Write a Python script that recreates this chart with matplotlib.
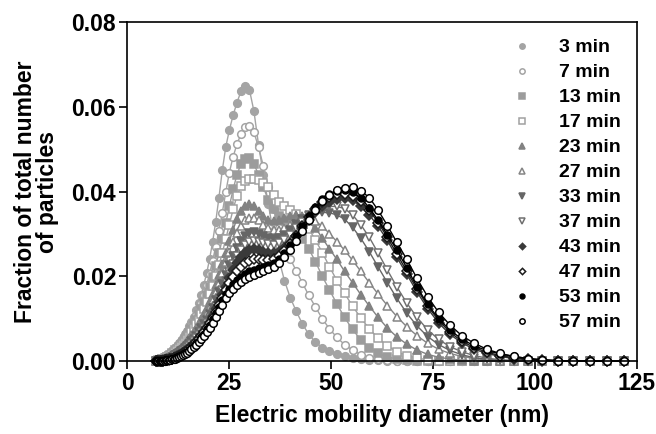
import matplotlib
matplotlib.use("Agg")
import matplotlib.pyplot as plt
from matplotlib.ticker import FormatStrFormatter

plt.rcParams['font.family'] = ['Liberation Sans', 'DejaVu Sans']
plt.rcParams['font.weight'] = 'bold'

# SMPS channel midpoints (nm)
diameters = [7.11, 7.37, 7.64, 7.92, 8.21, 8.51, 8.82, 9.14, 9.48, 9.83,
             10.19, 10.56, 10.95, 11.35, 11.76, 12.19, 12.64, 13.10, 13.58, 14.08,
             14.59, 15.13, 15.68, 16.26, 16.85, 17.47, 18.11, 18.77, 19.46, 20.17,
             20.91, 21.68, 22.47, 23.30, 24.15, 25.03, 25.95, 26.90, 27.89, 28.91,
             29.97, 31.06, 32.20, 33.38, 34.60, 35.87, 37.19, 38.55, 39.96, 41.42,
             42.94, 44.51, 46.14, 47.83, 49.59, 51.40, 53.28, 55.24, 57.26, 59.36,
             61.53, 63.79, 66.12, 68.55, 71.06, 73.66, 76.36, 79.15, 82.05, 85.06,
             88.18, 91.41, 94.76, 98.23, 101.83, 105.56, 109.42, 113.43, 117.59, 121.90]

labels = ['3 min', '7 min', '13 min', '17 min', '23 min', '27 min',
          '33 min', '37 min', '43 min', '47 min', '53 min', '57 min']

# number fraction per channel for each sampling time
f03 = [0.0001, 0.0002, 0.0003, 0.0004, 0.0005, 0.0006, 0.0008, 0.0009, 0.0011, 0.0013,
       0.0016, 0.0019, 0.0023, 0.0027, 0.0031, 0.0036, 0.0042, 0.0048, 0.0055, 0.0063,
       0.0072, 0.0082, 0.0093, 0.0105, 0.0120, 0.0137, 0.0157, 0.0180, 0.0207, 0.0240,
       0.0280, 0.0328, 0.0385, 0.0450, 0.0505, 0.0545, 0.0580, 0.0610, 0.0637, 0.0650,
       0.0640, 0.0590, 0.0510, 0.0440, 0.0370, 0.0300, 0.0240, 0.0190, 0.0150, 0.0118,
       0.0088, 0.0063, 0.0045, 0.0032, 0.0024, 0.0017, 0.0012, 0.0008, 0.0005, 0.0003,
       0.0002, 0.0001, 0.0001, 0, 0, 0, 0, 0, 0, 0,
       0, 0, 0, 0, 0, 0, 0, 0, 0, 0]
f07 = [0.0001, 0.0001, 0.0002, 0.0003, 0.0004, 0.0005, 0.0006, 0.0008, 0.0009, 0.0011,
       0.0014, 0.0017, 0.0020, 0.0024, 0.0028, 0.0033, 0.0038, 0.0044, 0.0051, 0.0058,
       0.0066, 0.0075, 0.0085, 0.0096, 0.0108, 0.0122, 0.0138, 0.0157, 0.0180, 0.0206,
       0.0236, 0.0270, 0.0308, 0.0350, 0.0398, 0.0445, 0.0482, 0.0512, 0.0536, 0.0552,
       0.0555, 0.0540, 0.0505, 0.0460, 0.0410, 0.0360, 0.0315, 0.0275, 0.0242, 0.0213,
       0.0185, 0.0155, 0.0128, 0.0100, 0.0076, 0.0056, 0.0039, 0.0026, 0.0015, 0.0008,
       0.0004, 0.0002, 0.0001, 0, 0, 0, 0, 0, 0, 0,
       0, 0, 0, 0, 0, 0, 0, 0, 0, 0]
f13 = [0.0001, 0.0001, 0.0002, 0.0002, 0.0003, 0.0004, 0.0005, 0.0007, 0.0008, 0.0010,
       0.0012, 0.0015, 0.0018, 0.0021, 0.0025, 0.0029, 0.0034, 0.0039, 0.0045, 0.0052,
       0.0059, 0.0067, 0.0076, 0.0086, 0.0097, 0.0109, 0.0122, 0.0137, 0.0155, 0.0175,
       0.0198, 0.0224, 0.0254, 0.0288, 0.0325, 0.0365, 0.0405, 0.0440, 0.0465, 0.0478,
       0.0480, 0.0465, 0.0440, 0.0410, 0.0380, 0.0358, 0.0342, 0.0332, 0.0322, 0.0308,
       0.0288, 0.0265, 0.0235, 0.0200, 0.0168, 0.0135, 0.0103, 0.0075, 0.0050, 0.0032,
       0.0018, 0.0010, 0.0005, 0.0003, 0.0001, 0, 0, 0, 0, 0,
       0, 0, 0, 0, 0, 0, 0, 0, 0, 0]
f17 = [0.0001, 0.0001, 0.0001, 0.0002, 0.0003, 0.0004, 0.0005, 0.0006, 0.0007, 0.0009,
       0.0011, 0.0013, 0.0016, 0.0019, 0.0022, 0.0026, 0.0030, 0.0035, 0.0040, 0.0046,
       0.0053, 0.0060, 0.0068, 0.0077, 0.0087, 0.0098, 0.0110, 0.0124, 0.0140, 0.0158,
       0.0178, 0.0200, 0.0226, 0.0255, 0.0288, 0.0322, 0.0358, 0.0390, 0.0413, 0.0426,
       0.0430, 0.0430, 0.0427, 0.0420, 0.0410, 0.0392, 0.0376, 0.0365, 0.0356, 0.0346,
       0.0332, 0.0312, 0.0286, 0.0256, 0.0223, 0.0190, 0.0160, 0.0130, 0.0102, 0.0076,
       0.0054, 0.0036, 0.0022, 0.0013, 0.0007, 0.0003, 0.0001, 0, 0, 0,
       0, 0, 0, 0, 0, 0, 0, 0, 0, 0]
f23 = [0.0001, 0.0001, 0.0001, 0.0002, 0.0002, 0.0003, 0.0004, 0.0005, 0.0006, 0.0008,
       0.0010, 0.0012, 0.0014, 0.0017, 0.0020, 0.0023, 0.0027, 0.0031, 0.0036, 0.0041,
       0.0047, 0.0054, 0.0061, 0.0069, 0.0078, 0.0088, 0.0099, 0.0111, 0.0125, 0.0141,
       0.0159, 0.0180, 0.0203, 0.0228, 0.0255, 0.0283, 0.0310, 0.0336, 0.0355, 0.0366,
       0.0370, 0.0366, 0.0355, 0.0342, 0.0333, 0.0330, 0.0332, 0.0337, 0.0342, 0.0345,
       0.0343, 0.0334, 0.0315, 0.0290, 0.0265, 0.0240, 0.0212, 0.0185, 0.0157, 0.0130,
       0.0103, 0.0078, 0.0057, 0.0040, 0.0026, 0.0016, 0.0009, 0.0005, 0.0002, 0.0001,
       0, 0, 0, 0, 0, 0, 0, 0, 0, 0]
f27 = [0, 0.0001, 0.0001, 0.0001, 0.0002, 0.0002, 0.0003, 0.0004, 0.0005, 0.0007,
       0.0008, 0.0010, 0.0012, 0.0015, 0.0018, 0.0021, 0.0024, 0.0028, 0.0032, 0.0037,
       0.0042, 0.0048, 0.0055, 0.0062, 0.0070, 0.0079, 0.0089, 0.0100, 0.0113, 0.0128,
       0.0145, 0.0164, 0.0185, 0.0208, 0.0233, 0.0258, 0.0282, 0.0303, 0.0320, 0.0332,
       0.0338, 0.0338, 0.0332, 0.0322, 0.0314, 0.0310, 0.0310, 0.0315, 0.0322, 0.0330,
       0.0335, 0.0336, 0.0330, 0.0318, 0.0301, 0.0282, 0.0262, 0.0238, 0.0212, 0.0185,
       0.0158, 0.0131, 0.0105, 0.0081, 0.0060, 0.0042, 0.0028, 0.0018, 0.0011, 0.0006,
       0.0003, 0.0001, 0, 0, 0, 0, 0, 0, 0, 0]
f33 = [0, 0, 0.0001, 0.0001, 0.0001, 0.0002, 0.0002, 0.0003, 0.0004, 0.0005,
       0.0006, 0.0008, 0.0010, 0.0012, 0.0014, 0.0017, 0.0020, 0.0023, 0.0027, 0.0031,
       0.0036, 0.0041, 0.0047, 0.0053, 0.0060, 0.0068, 0.0077, 0.0087, 0.0098, 0.0111,
       0.0126, 0.0143, 0.0162, 0.0182, 0.0204, 0.0226, 0.0248, 0.0267, 0.0283, 0.0295,
       0.0302, 0.0304, 0.0301, 0.0296, 0.0291, 0.0289, 0.0291, 0.0298, 0.0310, 0.0323,
       0.0336, 0.0345, 0.0350, 0.0351, 0.0350, 0.0345, 0.0335, 0.0316, 0.0290, 0.0258,
       0.0222, 0.0185, 0.0148, 0.0113, 0.0083, 0.0058, 0.0039, 0.0025, 0.0015, 0.0008,
       0.0004, 0.0002, 0.0001, 0, 0, 0, 0, 0, 0, 0]
f37 = [0, 0, 0.0001, 0.0001, 0.0001, 0.0001, 0.0002, 0.0002, 0.0003, 0.0004,
       0.0005, 0.0007, 0.0008, 0.0010, 0.0012, 0.0014, 0.0017, 0.0020, 0.0023, 0.0027,
       0.0031, 0.0036, 0.0041, 0.0047, 0.0054, 0.0061, 0.0069, 0.0078, 0.0089, 0.0101,
       0.0115, 0.0131, 0.0149, 0.0168, 0.0189, 0.0210, 0.0230, 0.0248, 0.0262, 0.0273,
       0.0280, 0.0283, 0.0282, 0.0279, 0.0276, 0.0275, 0.0278, 0.0286, 0.0298, 0.0313,
       0.0329, 0.0343, 0.0354, 0.0361, 0.0365, 0.0365, 0.0360, 0.0345, 0.0322, 0.0292,
       0.0255, 0.0215, 0.0175, 0.0137, 0.0103, 0.0074, 0.0051, 0.0034, 0.0022, 0.0013,
       0.0007, 0.0003, 0.0001, 0, 0, 0, 0, 0, 0, 0]
f43 = [0, 0, 0, 0.0001, 0.0001, 0.0001, 0.0001, 0.0002, 0.0002, 0.0003,
       0.0004, 0.0005, 0.0006, 0.0008, 0.0010, 0.0012, 0.0014, 0.0017, 0.0020, 0.0023,
       0.0027, 0.0031, 0.0036, 0.0041, 0.0047, 0.0054, 0.0062, 0.0071, 0.0081, 0.0092,
       0.0106, 0.0122, 0.0139, 0.0157, 0.0176, 0.0196, 0.0215, 0.0232, 0.0246, 0.0256,
       0.0262, 0.0264, 0.0262, 0.0258, 0.0255, 0.0254, 0.0258, 0.0266, 0.0279, 0.0296,
       0.0315, 0.0334, 0.0351, 0.0365, 0.0376, 0.0383, 0.0385, 0.0380, 0.0365, 0.0345,
       0.0318, 0.0285, 0.0245, 0.0205, 0.0163, 0.0124, 0.0090, 0.0063, 0.0043, 0.0028,
       0.0018, 0.0011, 0.0006, 0.0003, 0.0001, 0, 0, 0, 0, 0]
f47 = [0, 0, 0, 0.0001, 0.0001, 0.0001, 0.0001, 0.0002, 0.0002, 0.0003,
       0.0003, 0.0004, 0.0005, 0.0007, 0.0008, 0.0010, 0.0012, 0.0015, 0.0018, 0.0021,
       0.0024, 0.0028, 0.0033, 0.0038, 0.0044, 0.0051, 0.0059, 0.0068, 0.0078, 0.0089,
       0.0102, 0.0117, 0.0133, 0.0150, 0.0167, 0.0184, 0.0199, 0.0212, 0.0223, 0.0231,
       0.0237, 0.0240, 0.0240, 0.0239, 0.0239, 0.0241, 0.0248, 0.0260, 0.0276, 0.0296,
       0.0318, 0.0340, 0.0360, 0.0376, 0.0388, 0.0394, 0.0395, 0.0390, 0.0377, 0.0356,
       0.0327, 0.0292, 0.0253, 0.0212, 0.0170, 0.0130, 0.0096, 0.0068, 0.0047, 0.0032,
       0.0021, 0.0013, 0.0008, 0.0004, 0.0002, 0.0001, 0, 0, 0, 0]
f53 = [0, 0, 0, 0.0001, 0.0001, 0.0001, 0.0001, 0.0002, 0.0002, 0.0003,
       0.0003, 0.0004, 0.0005, 0.0006, 0.0007, 0.0009, 0.0011, 0.0013, 0.0016, 0.0019,
       0.0022, 0.0026, 0.0031, 0.0036, 0.0042, 0.0048, 0.0056, 0.0065, 0.0075, 0.0086,
       0.0099, 0.0113, 0.0128, 0.0143, 0.0158, 0.0171, 0.0182, 0.0191, 0.0199, 0.0206,
       0.0212, 0.0216, 0.0219, 0.0222, 0.0226, 0.0232, 0.0242, 0.0256, 0.0274, 0.0295,
       0.0318, 0.0342, 0.0364, 0.0382, 0.0395, 0.0402, 0.0403, 0.0398, 0.0385, 0.0362,
       0.0332, 0.0298, 0.0262, 0.0220, 0.0175, 0.0134, 0.0100, 0.0073, 0.0052, 0.0036,
       0.0025, 0.0017, 0.0011, 0.0006, 0.0003, 0.0001, 0, 0, 0, 0]
f57 = [0, 0, 0, 0, 0.0001, 0.0001, 0.0001, 0.0001, 0.0002, 0.0002,
       0.0003, 0.0003, 0.0004, 0.0005, 0.0006, 0.0008, 0.0010, 0.0012, 0.0014, 0.0017,
       0.0020, 0.0024, 0.0028, 0.0033, 0.0038, 0.0044, 0.0051, 0.0059, 0.0068, 0.0078,
       0.0090, 0.0104, 0.0118, 0.0133, 0.0148, 0.0160, 0.0170, 0.0179, 0.0186, 0.0193,
       0.0199, 0.0204, 0.0208, 0.0212, 0.0217, 0.0223, 0.0232, 0.0245, 0.0262, 0.0283,
       0.0307, 0.0332, 0.0357, 0.0378, 0.0393, 0.0403, 0.0409, 0.0411, 0.0402, 0.0386,
       0.0356, 0.0320, 0.0280, 0.0240, 0.0195, 0.0152, 0.0115, 0.0085, 0.0060, 0.0042,
       0.0028, 0.0018, 0.0011, 0.0006, 0.0003, 0.0001, 0, 0, 0, 0]

series = [f03, f07, f13, f17, f23, f27, f33, f37, f43, f47, f53, f57]

# marker, colour, filled
styles = [('o', '#a4a4a4', True), ('o', '#a4a4a4', False),
          ('s', '#9c9c9c', True), ('s', '#a0a0a0', False),
          ('^', '#828282', True), ('^', '#858585', False),
          ('v', '#666666', True), ('v', '#707070', False),
          ('D', '#3a3a3a', True), ('D', '#1c1c1c', False),
          ('o', '#000000', True), ('o', '#000000', False)]

fig, ax = plt.subplots(figsize=(6.56, 4.34), dpi=100)
fig.subplots_adjust(left=0.194, right=0.971, bottom=0.168, top=0.949)

for vals, lab, (mk, col, filled) in zip(series, labels, styles):
    ms = 5.5
    if mk == 'D':
        ms = 4.6
    elif mk == 'o' and col == '#000000' and filled:
        ms = 5.0
    ax.plot(diameters, vals, '-', color=col, lw=1.0, marker=mk, ms=ms,
            mfc=col if filled else 'white', mec=col, mew=1.1,
            label=lab, clip_on=False)

ax.set_xlim(0, 125)
ax.set_ylim(0, 0.08)
ax.set_xticks([0, 25, 50, 75, 100, 125])
ax.set_yticks([0, 0.02, 0.04, 0.06, 0.08])
ax.yaxis.set_major_formatter(FormatStrFormatter('%.2f'))
ax.tick_params(direction='out', length=6, width=1.2, labelsize=16.5, pad=2)
for sp in ax.spines.values():
    sp.set_linewidth(1.2)

ax.set_xlabel('Electric mobility diameter (nm)', fontsize=16.5, fontweight='bold', labelpad=6)
ax.set_ylabel('Fraction of total number\nof particles', fontsize=16.5,
              fontweight='bold', linespacing=0.95)
ax.yaxis.set_label_coords(-0.133, 0.5)

leg = ax.legend(loc='upper right', bbox_to_anchor=(0.968, 0.951), frameon=False,
                fontsize=14, handlelength=1.0, handletextpad=1.4,
                labelspacing=0.38, borderaxespad=0, borderpad=0,
                markerscale=0.7)
for h in leg.get_lines():
    h.set_linestyle('None')

fig.savefig('out.png', dpi=100)
